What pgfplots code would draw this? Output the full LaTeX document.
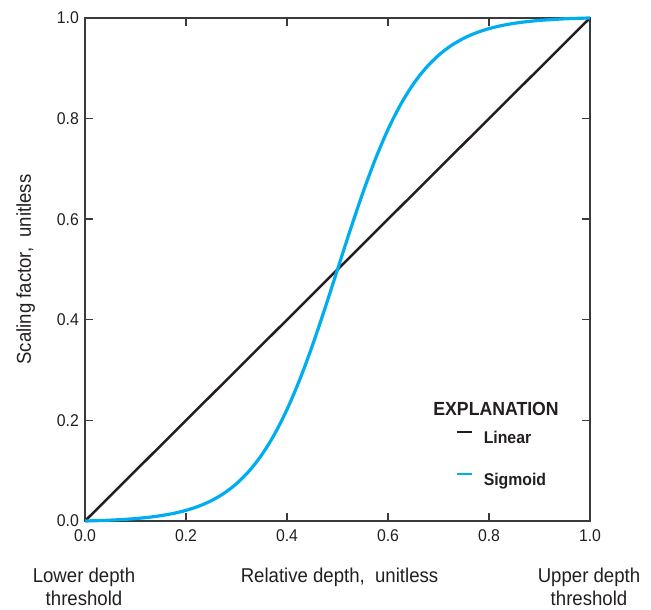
\documentclass[border=0pt]{standalone}
\usepackage{fontspec}
\setmainfont{Liberation Sans}[FakeStretch=0.93]
\usepackage{pgfplots}
\pgfplotsset{compat=1.18}
\usepackage{pgfplotstable}

\definecolor{inkgray}{HTML}{231F20}
\definecolor{framegray}{HTML}{3A3A3A}
\definecolor{sigblue}{HTML}{00AEEF}

% Linear scaling between the two depth thresholds
\pgfplotstableread{
x y
0 0
1 1
}\lineartab

% Sigmoid scaling, steep around mid depth
\pgfplotstableread{
x y
0.000 0.00000
0.025 0.00071
0.050 0.00167
0.075 0.00299
0.100 0.00478
0.125 0.00723
0.150 0.01055
0.175 0.01505
0.200 0.02113
0.225 0.02933
0.250 0.04032
0.275 0.05492
0.300 0.07422
0.325 0.09934
0.350 0.13154
0.375 0.17202
0.400 0.22163
0.425 0.28056
0.450 0.34806
0.475 0.42221
0.500 0.50000
0.525 0.57779
0.550 0.65194
0.575 0.71944
0.600 0.77837
0.625 0.82798
0.650 0.86846
0.675 0.90066
0.700 0.92578
0.725 0.94508
0.750 0.95968
0.775 0.97067
0.800 0.97887
0.825 0.98495
0.850 0.98945
0.875 0.99277
0.900 0.99522
0.925 0.99701
0.950 0.99833
0.975 0.99929
1.000 1.00000
}\sigmoidtab

\begin{document}
\begin{tikzpicture}[font=\fontsize{20}{23}\selectfont, color=inkgray]
\begin{axis}[
  name=ax,
  scale only axis,
  width=505pt, height=503pt,
  xmin=0, xmax=1, ymin=0, ymax=1,
  clip=false,
  axis line style={framegray, line width=1.4pt},
  tick style={framegray, line width=1.4pt},
  tick align=inside,
  tick pos=both,
  major tick length=8pt,
  xtick={0,0.2,0.4,0.6,0.8,1},
  ytick={0,0.2,0.4,0.6,0.8,1},
  xticklabels={0.0,0.2,0.4,0.6,0.8,1.0},
  yticklabels={0.0,0.2,0.4,0.6,0.8,1.0},
  ticklabel style={font=\fontsize{17}{20}\selectfont, text=inkgray},
  xticklabel style={inner sep=0pt, yshift=-8pt},
  yticklabel style={inner sep=0pt, xshift=-6pt},
  xlabel={Relative depth,\ \ unitless},
  xlabel style={at={(axis description cs:0.5,0)}, anchor=base, yshift=-62pt, xshift=2pt, inner sep=0pt},
  ylabel={Scaling factor,\ \ unitless},
  ylabel style={at={(axis description cs:-0.107,0.5)}, anchor=base, rotate=0, inner sep=0pt},
  legend style={at={(axis cs:0.733,0.180)}, anchor=north west, draw=none, fill=none,
    inner sep=0pt, row sep=28pt, font=\fontsize{17}{20}\selectfont\bfseries,
    nodes={inner sep=0pt}, text=inkgray,
    /tikz/every odd column/.append style={column sep=11pt}},
  legend cell align=left,
  legend image code/.code={\draw[#1, line width=2.4pt] (0pt,6pt) -- (15pt,6pt);},
]
\addplot[inkgray, line width=2.5pt] table[x=x, y=y] {\lineartab};
\addlegendentry{Linear}
\addplot[sigblue, line width=3.2pt, smooth] table[x=x, y=y] {\sigmoidtab};
\addlegendentry{Sigmoid}
\node[anchor=base, font=\fontsize{19}{22}\selectfont\bfseries, text=inkgray]
  at (axis cs:0.814,0.2107) {EXPLANATION};
\end{axis}
% threshold captions below the ends of the depth axis
\node[anchor=base] at ([xshift=-1pt, yshift=-62pt]ax.south west) {Lower depth};
\node[anchor=base] at ([xshift=-1pt, yshift=-85pt]ax.south west) {threshold};
\node[anchor=base] at ([xshift=-1pt, yshift=-62pt]ax.south east) {Upper depth};
\node[anchor=base] at ([xshift=-1pt, yshift=-85pt]ax.south east) {threshold};
% page extent
\path ([shift={(-85pt,-89pt)}]ax.south west) rectangle ([shift={(61pt,18pt)}]ax.north east);
\end{tikzpicture}
\end{document}
